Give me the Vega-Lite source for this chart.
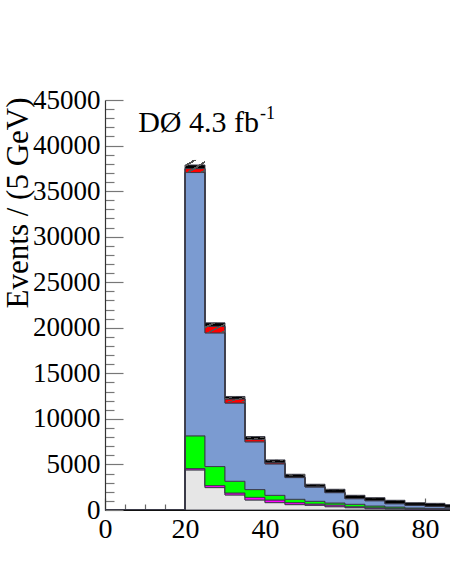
{
  "$schema": "https://vega.github.io/schema/vega-lite/v6.json",
  "width": 345,
  "height": 410,
  "autosize": {"type": "none"},
  "padding": {"left": 105, "top": 100, "right": 0, "bottom": 72},
  "config": {
    "view": {"stroke": null},
    "axis": {"grid": false, "labelFont": "Liberation Serif", "titleFont": "Liberation Serif", "labelColor": "#000", "titleColor": "#000"}
  },
  "layer": [
    {
      "data": {"values": [
        {"m": 0, "c1": 0, "c2": 0, "c3": 0, "c4": 0, "c5": 0, "c6": 0},
        {"m": 20, "c1": 4400, "c2": 150, "c3": 3590, "c4": 28900, "c5": 430, "c6": 400},
        {"m": 25, "c1": 2460, "c2": 220, "c3": 2090, "c4": 14670, "c5": 720, "c6": 380},
        {"m": 30, "c1": 1650, "c2": 220, "c3": 1285, "c4": 8585, "c5": 440, "c6": 280},
        {"m": 35, "c1": 1100, "c2": 290, "c3": 850, "c4": 5240, "c5": 250, "c6": 330},
        {"m": 40, "c1": 810, "c2": 290, "c3": 510, "c4": 3450, "c5": 120, "c6": 320},
        {"m": 45, "c1": 590, "c2": 220, "c3": 365, "c4": 2382, "c5": 43, "c6": 323},
        {"m": 50, "c1": 513, "c2": 147, "c3": 295, "c4": 1575, "c5": 30, "c6": 267},
        {"m": 55, "c1": 363, "c2": 187, "c3": 220, "c4": 1135, "c5": 25, "c6": 347},
        {"m": 60, "c1": 253, "c2": 110, "c3": 264, "c4": 616, "c5": 17, "c6": 357},
        {"m": 65, "c1": 143, "c2": 110, "c3": 187, "c4": 583, "c5": 12, "c6": 318},
        {"m": 70, "c1": 110, "c2": 77, "c3": 143, "c4": 367, "c5": 8, "c6": 362},
        {"m": 75, "c1": 77, "c2": 70, "c3": 73, "c4": 293, "c5": 7, "c6": 283},
        {"m": 80, "c1": 60, "c2": 60, "c3": 60, "c4": 223, "c5": 7, "c6": 323},
        {"m": 85, "c1": 50, "c2": 50, "c3": 50, "c4": 143, "c5": 7, "c6": 287},
        {"m": 90, "c1": 40, "c2": 40, "c3": 40, "c4": 110, "c5": 5, "c6": 250}
      ]},
      "transform": [{"fold": ["c1", "c2", "c3", "c4", "c5", "c6"], "as": ["comp", "n"]}],
      "mark": {"type": "area", "interpolate": "step-after", "clip": true, "stroke": "#3a3a48", "strokeWidth": 0.9, "strokeJoin": "miter"},
      "encoding": {
        "x": {
          "field": "m", "type": "quantitative",
          "scale": {"domain": [0, 86.25], "nice": false, "zero": false},
          "axis": {
            "title": null,
            "values": [0, 5, 10, 15, 20, 25, 30, 35, 40, 45, 50, 55, 60, 65, 70, 75, 80, 85],
            "tickCount": 200,
            "labelExpr": "datum.value % 20 === 0 ? '' + datum.value : ''",
            "labelFontSize": 28,
            "labelPadding": 17,
            "labelOverlap": false,
            "labelFlush": false,
            "labelBound": false,
            "labelBaseline": "top",
            "domainColor": "#111",
            "domainWidth": 1.2,
            "tickColor": "#666",
            "tickWidth": 1.2,
            "tickSize": {"condition": {"test": "datum.value % 20 === 0", "value": -12}, "value": -6}
          }
        },
        "y": {
          "field": "n", "type": "quantitative", "stack": "zero",
          "scale": {"domain": [0, 45000], "nice": false},
          "axis": {
            "title": "Events / (5 GeV)",
            "titleFontSize": 31,
            "titleFontWeight": "normal",
            "titleAngle": 270,
            "titleX": -78,
            "titleY": -3,
            "titleAlign": "right",
            "titleBaseline": "alphabetic",
            "values": [0,1000,2000,3000,4000,5000,6000,7000,8000,9000,10000,11000,12000,13000,14000,15000,16000,17000,18000,19000,20000,21000,22000,23000,24000,25000,26000,27000,28000,29000,30000,31000,32000,33000,34000,35000,36000,37000,38000,39000,40000,41000,42000,43000,44000,45000],
            "tickCount": 200,
            "labelExpr": "datum.value % 5000 === 0 ? '' + datum.value : ''",
            "labelFontSize": 27,
            "labelPadding": 23,
            "labelOverlap": false,
            "labelFlush": false,
            "labelBound": false,
            "domainColor": "#333",
            "domainWidth": 1.2,
            "tickColor": "#777",
            "tickWidth": 1.2,
            "tickSize": {"condition": {"test": "datum.value % 5000 === 0", "value": -18}, "value": -9}
          }
        },
        "color": {
          "field": "comp", "type": "nominal",
          "scale": {"domain": ["c1", "c2", "c3", "c4", "c5", "c6"], "range": ["#e6e6e6", "#ff00ff", "#00ff00", "#7b9bd1", "#ff0000", "#000000"]},
          "legend": null
        },
        "order": {"field": "comp", "type": "nominal"}
      }
    },
    {
      "data": {"values": [
        {"m": 20, "m2": 25, "lo": 37050, "hi": 38420},
        {"m": 25, "m2": 30, "lo": 19450, "hi": 20560},
        {"m": 30, "m2": 35, "lo": 11850, "hi": 12480},
        {"m": 35, "m2": 40, "lo": 7700, "hi": 8070},
        {"m": 40, "m2": 45, "lo": 5250, "hi": 5520},
        {"m": 45, "m2": 50, "lo": 3760, "hi": 3940},
        {"m": 50, "m2": 55, "lo": 2710, "hi": 2840},
        {"m": 55, "m2": 60, "lo": 2180, "hi": 2290},
        {"m": 60, "m2": 65, "lo": 1550, "hi": 1630},
        {"m": 65, "m2": 70, "lo": 1290, "hi": 1365},
        {"m": 70, "m2": 75, "lo": 1010, "hi": 1075},
        {"m": 75, "m2": 80, "lo": 760, "hi": 810},
        {"m": 80, "m2": 85, "lo": 690, "hi": 740},
        {"m": 85, "m2": 90, "lo": 550, "hi": 595}
      ]},
      "mark": {
        "type": "rect", "clip": true, "strokeWidth": 0,
        "fill": {"gradient": "linear", "x1": 0, "y1": 0, "x2": 1, "y2": 1, "stops": [
          {"offset": 0, "color": "rgba(0,0,0,0)"},
          {"offset": 0.2, "color": "rgba(0,0,0,0)"},
          {"offset": 0.2, "color": "#555"},
          {"offset": 0.29, "color": "#555"},
          {"offset": 0.29, "color": "rgba(0,0,0,0)"},
          {"offset": 0.533, "color": "rgba(0,0,0,0)"},
          {"offset": 0.533, "color": "#555"},
          {"offset": 0.623, "color": "#555"},
          {"offset": 0.623, "color": "rgba(0,0,0,0)"},
          {"offset": 0.867, "color": "rgba(0,0,0,0)"},
          {"offset": 0.867, "color": "#555"},
          {"offset": 0.957, "color": "#555"},
          {"offset": 0.957, "color": "rgba(0,0,0,0)"},
          {"offset": 1, "color": "rgba(0,0,0,0)"}
        ]}
      },
      "encoding": {
        "x": {"field": "m", "type": "quantitative"},
        "x2": {"field": "m2"},
        "y": {"field": "lo", "type": "quantitative"},
        "y2": {"field": "hi"}
      }
    },
    {
      "mark": {"type": "rule", "color": "#8c8c8c", "strokeWidth": 1.5},
      "encoding": {"y": {"datum": 45000}}
    },
    {
      "data": {"values": [
        {"label": "DØ 4.3 fb", "x": 8.3, "y": 41520, "size": 30},
        {"label": "-1", "x": 38.75, "y": 42900, "size": 18}
      ]},
      "mark": {"type": "text", "font": "Liberation Serif", "align": "left", "baseline": "alphabetic", "color": "#000"},
      "encoding": {
        "x": {"field": "x", "type": "quantitative"},
        "y": {"field": "y", "type": "quantitative"},
        "text": {"field": "label"},
        "size": {"field": "size", "type": "quantitative", "scale": null}
      }
    }
  ]
}
